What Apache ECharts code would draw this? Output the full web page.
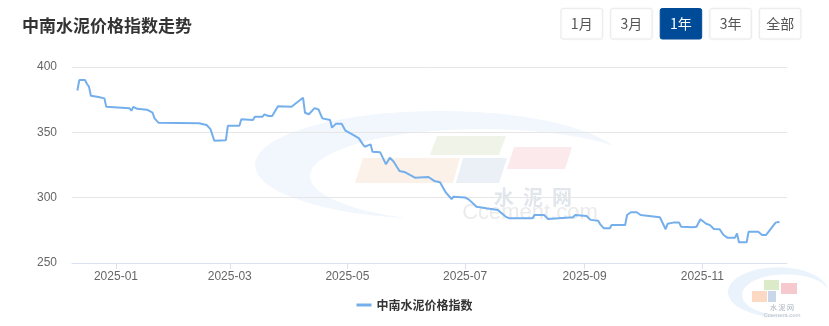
<!DOCTYPE html>
<html>
<head>
<meta charset="utf-8">
<script src="https://cdn.jsdelivr.net/npm/echarts@6/dist/echarts.min.js"></script>
<style>
html,body{margin:0;padding:0;background:#fff;}
#c{width:829px;height:326px;}
</style>
</head>
<body>
<div id="c"></div>
<script>
var titleText = '中南水泥价格指数走势';
var seriesName = '中南水泥价格指数';
var rangeButtons = ['1月', '3月', '1年', '3年', '全部'];
var activeButton = '1年';
var yTicks = [250, 300, 350, 400];
var xTickMonths = ['2025-01', '2025-03', '2025-05', '2025-07', '2025-09', '2025-11'];

var dates = [
'2024-12-12','2024-12-13','2024-12-16','2024-12-17','2024-12-18','2024-12-19','2024-12-23','2024-12-26','2024-12-27',
'2025-01-08','2025-01-09','2025-01-10','2025-01-12','2025-01-17','2025-01-20','2025-01-21','2025-01-22','2025-01-23',
'2025-02-13','2025-02-17','2025-02-19','2025-02-21','2025-02-27','2025-02-28',
'2025-03-06','2025-03-07','2025-03-13','2025-03-14','2025-03-18','2025-03-19','2025-03-21','2025-03-23','2025-03-26',
'2025-04-02','2025-04-08','2025-04-09','2025-04-11','2025-04-14','2025-04-16','2025-04-18','2025-04-22','2025-04-23','2025-04-25','2025-04-28','2025-04-30',
'2025-05-04','2025-05-07','2025-05-09','2025-05-10','2025-05-13','2025-05-14','2025-05-18','2025-05-21','2025-05-23','2025-05-25','2025-05-28','2025-05-31',
'2025-06-05','2025-06-12','2025-06-15','2025-06-18','2025-06-21','2025-06-24','2025-06-25',
'2025-07-01','2025-07-03','2025-07-04','2025-07-07','2025-07-12','2025-07-18','2025-07-22','2025-07-24',
'2025-08-05','2025-08-06','2025-08-11','2025-08-13','2025-08-14','2025-08-26','2025-08-27',
'2025-09-02','2025-09-04','2025-09-08','2025-09-09','2025-09-11','2025-09-14','2025-09-15','2025-09-22','2025-09-23','2025-09-25','2025-09-28','2025-09-30',
'2025-10-10','2025-10-11','2025-10-13','2025-10-14','2025-10-17','2025-10-20','2025-10-21','2025-10-27','2025-10-28','2025-10-29','2025-10-31',
'2025-11-03','2025-11-05','2025-11-07','2025-11-10','2025-11-12','2025-11-14','2025-11-18','2025-11-19','2025-11-20','2025-11-24','2025-11-25','2025-11-30',
'2025-12-02','2025-12-04','2025-12-09','2025-12-11'
];
var values = [
382,390,390,387,385,378,377,376,369.5,
368.5,366.5,369.5,368,367.3,365,360.7,359.5,357.4,
357,355.6,352.5,343.6,344,355,
355,360,359.4,362,362,363.8,362.5,362.5,370,
369.6,376.5,365,363.8,368.5,367.5,360.7,359.4,353.6,356.5,356.5,351.3,
348,345.4,340.8,339,340.8,335.2,334.7,325.5,330.6,327.5,320.4,319.4,
315.3,315.8,312.8,311.8,304,299,300.7,
300.2,298.5,298.2,293.1,291.9,290.6,285.5,284.2,
284.2,286.7,286.7,283.7,285,285,286.7,
286,283,282.4,279.8,276.5,276.5,279,279,286.7,288.8,288.8,286.7,
285,284.2,275.8,280,280.9,280.9,277.8,277.3,278.8,277.8,283.5,
280,279,276,275.8,271.4,269.4,269.4,272.7,265.8,265.8,274,274,
271.4,271.4,280.9,281.6
];

function ts(s){ var p = s.split('-'); return new Date(+p[0], +p[1]-1, p[2] ? +p[2] : 1).getTime(); }
var seriesData = dates.map(function(d, i){ return [ts(d), values[i]]; });
var xTickValues = xTickMonths.map(function(m){ return ts(m); });
var xMin = new Date(2024, 11, 9, 5).getTime();
var xMax = new Date(2025, 11, 14, 22).getTime();

var graphics = [];
// faint background watermark
graphics.push({type:'circle', silent:true, z:-20, shape:{cx:0, cy:0, r:100}, x:440, y:165, scaleX:1.85, scaleY:0.54, style:{fill:'#f1f7fd'}});
graphics.push({type:'circle', silent:true, z:-19, shape:{cx:0, cy:0, r:100}, x:482, y:176, scaleX:1.72, scaleY:0.47, style:{fill:'#ffffff'}});
graphics.push({type:'polygon', silent:true, z:-18, shape:{points:[[437,136],[506,136],[499,155],[430,155]]}, style:{fill:'#f0f4e8'}});
graphics.push({type:'polygon', silent:true, z:-18, shape:{points:[[363,158],[460,158],[453,183],[355,183]]}, style:{fill:'#fcf1e8'}});
graphics.push({type:'polygon', silent:true, z:-18, shape:{points:[[463,158],[507,158],[499,183],[456,183]]}, style:{fill:'#ebeff6'}});
graphics.push({type:'polygon', silent:true, z:-18, shape:{points:[[514,147],[572,147],[565,169],[507,169]]}, style:{fill:'#fbe9eb'}});
graphics.push({type:'text', silent:true, z:-17, x:533, y:197, style:{text:'水  泥  网', fill:'#e1e6ec', font:'bold 20px "Noto Sans CJK SC"', textAlign:'center', textVerticalAlign:'middle'}});
graphics.push({type:'text', silent:true, z:-17, x:530, y:213, style:{text:'Ccement.com', fill:'#ebebeb', font:'22px "Liberation Sans", Arial', textAlign:'center', textVerticalAlign:'middle'}});
// bottom-right logo
graphics.push({type:'circle', silent:true, z:-20, shape:{cx:0, cy:0, r:40}, x:778, y:292, scaleX:1.25, scaleY:0.62, style:{fill:'#eaf3fb'}});
graphics.push({type:'circle', silent:true, z:-19, shape:{cx:0, cy:0, r:40}, x:786, y:295, scaleX:1.1, scaleY:0.52, style:{fill:'#ffffff'}});
graphics.push({type:'rect', silent:true, z:-18, shape:{x:752, y:291, width:15, height:11}, style:{fill:'#fbd9c3'}});
graphics.push({type:'rect', silent:true, z:-18, shape:{x:768, y:291, width:8, height:11}, style:{fill:'#c9d7ea'}});
graphics.push({type:'rect', silent:true, z:-18, shape:{x:764, y:280, width:15, height:10}, style:{fill:'#dcebc7'}});
graphics.push({type:'rect', silent:true, z:-18, shape:{x:781, y:283, width:16, height:11}, style:{fill:'#f6c9cf'}});
graphics.push({type:'text', silent:true, z:-17, x:782, y:307, style:{text:'水 泥 网', fill:'#a9b2bd', font:'7px "Noto Sans CJK SC"', textAlign:'center', textVerticalAlign:'middle'}});
graphics.push({type:'text', silent:true, z:-17, x:782, y:315, style:{text:'Ccement.com', fill:'#b5bcc4', font:'6px "Liberation Sans", Arial', textAlign:'center', textVerticalAlign:'middle'}});
// title
graphics.push({type:'text', x:22, y:26, style:{text:titleText, fill:'#333333', font:'bold 17px "Noto Sans CJK SC", sans-serif', textVerticalAlign:'middle'}});
// range buttons
rangeButtons.forEach(function(b, i){
  var active = b === activeButton;
  var bx = 561 + i * 49.6;
  graphics.push({type:'rect', x:bx, y:8.5, shape:{x:0, y:0, width:41.5, height:30.5, r:2},
    style:{fill: active ? '#004b98' : '#ffffff', stroke: active ? '#004b98' : '#ececec', lineWidth:1,
      shadowBlur: active ? 0 : 2, shadowColor:'rgba(0,0,0,0.06)'}});
  graphics.push({type:'text', x:bx + 20.75, y:24, style:{text:b, fill: active ? '#ffffff' : '#555555',
    font:'14px "Noto Sans CJK SC", sans-serif', textAlign:'center', textVerticalAlign:'middle'}});
});

function fmtMonth(v){
  var d = new Date(v);
  var m = d.getMonth() + 1;
  return d.getFullYear() + '-' + (m < 10 ? '0' + m : m);
}

var chart = echarts.init(document.getElementById('c'), null, {renderer:'canvas'});
chart.setOption({
  animation:false,
  backgroundColor:'#ffffff',
  graphic: graphics,
  grid:{left:72, right:42, top:67, bottom:63, containLabel:false},
  legend:{
    bottom:10, left:'center',
    itemWidth:15, itemHeight:3, itemGap:10,
    icon:'rect',
    textStyle:{color:'#333333', fontSize:12, fontWeight:'bold', fontFamily:'"Noto Sans CJK SC", sans-serif'},
    data:[seriesName]
  },
  xAxis:{
    type:'value', min:xMin, max:xMax, scale:true,
    axisLine:{show:true, onZero:false, lineStyle:{color:'#dbe2ef', width:1}},
    axisTick:{show:true, length:6, lineStyle:{color:'#dbe2ef'}, customValues:xTickValues},
    axisLabel:{show:true, color:'#666666', fontSize:12, fontFamily:'"Liberation Sans", Arial, sans-serif', margin:8,
      customValues:xTickValues, formatter:function(v){ return fmtMonth(v); }},
    splitLine:{show:false}
  },
  yAxis:{
    type:'value', min:yTicks[0], max:yTicks[yTicks.length-1], interval:50,
    axisLine:{show:false}, axisTick:{show:false},
    axisLabel:{color:'#666666', fontSize:12, fontFamily:'"Liberation Sans", Arial, sans-serif', margin:15},
    splitLine:{show:true, lineStyle:{color:'#e6e6e6', width:1}}
  },
  series:[{
    name:seriesName, type:'line', data:seriesData,
    showSymbol:false, symbol:'none', smooth:false,
    lineStyle:{color:'#74afec', width:2},
    itemStyle:{color:'#74afec'}
  }]
});
</script>
</body>
</html>
